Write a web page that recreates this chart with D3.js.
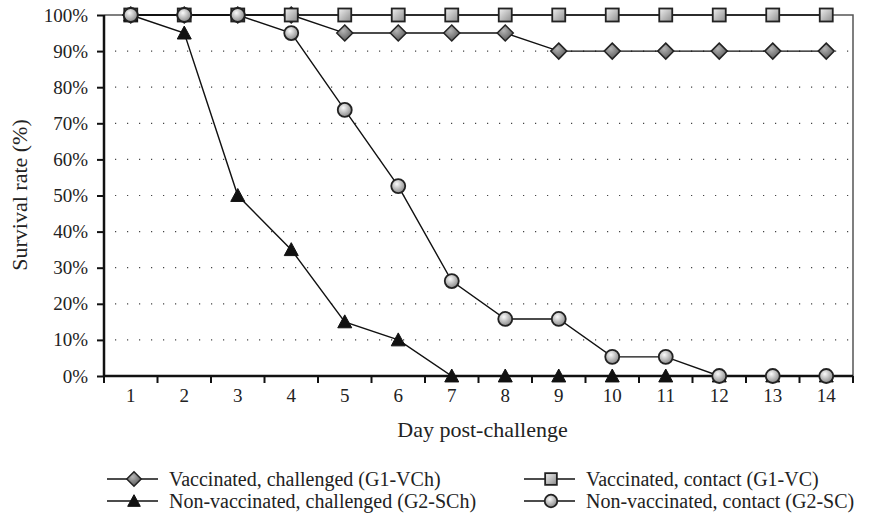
<!DOCTYPE html>
<html>
<head>
<meta charset="utf-8">
<script src="https://cdn.jsdelivr.net/npm/d3@7"></script>
<style>
  body { margin: 0; background: #fff; }
  text { font-family: "Liberation Serif", "Times New Roman", serif; fill: #222; }
</style>
</head>
<body>
<svg id="chart"></svg>
<script>
// data
const days = [1, 2, 3, 4, 5, 6, 7, 8, 9, 10, 11, 12, 13, 14];
const g1VCh = [100, 100, 100, 100, 95, 95, 95, 95, 90, 90, 90, 90, 90, 90];
const g1VC = [100, 100, 100, 100, 100, 100, 100, 100, 100, 100, 100, 100, 100, 100];
const g2SCh = [100, 95, 50, 35, 15, 10, 0, 0, 0, 0, 0, 0, 0, 0];
const g2SC = [100, 100, 100, 95, 73.7, 52.6, 26.3, 15.8, 15.8, 5.3, 5.3, 0, 0, 0];
const yTicks = [0, 10, 20, 30, 40, 50, 60, 70, 80, 90, 100];

const series = [
    { name: "Vaccinated, challenged (G1-VCh)", values: g1VCh, marker: "diamond" },
    { name: "Vaccinated, contact (G1-VC)", values: g1VC, marker: "square" },
    { name: "Non-vaccinated, challenged (G2-SCh)", values: g2SCh, marker: "triangle" },
    { name: "Non-vaccinated, contact (G2-SC)", values: g2SC, marker: "circle" }
];

const W = 875, H = 517;
const margin = { top: 15, right: 22, bottom: 141, left: 104 };
const width = W - margin.left - margin.right;
const height = H - margin.top - margin.bottom;

const root = d3.select("#chart").attr("width", W).attr("height", H);

// gradients for the markers
const defs = root.append("defs");
const rg = defs.append("radialGradient").attr("id", "gCircle")
    .attr("cx", "40%").attr("cy", "35%").attr("r", "65%");
rg.append("stop").attr("offset", "0%").attr("stop-color", "#fafafa");
rg.append("stop").attr("offset", "100%").attr("stop-color", "#8a8a8a");
const lg = defs.append("linearGradient").attr("id", "gSquare")
    .attr("x1", "0%").attr("y1", "0%").attr("x2", "100%").attr("y2", "100%");
lg.append("stop").attr("offset", "0%").attr("stop-color", "#f2f2f2");
lg.append("stop").attr("offset", "100%").attr("stop-color", "#8c8c8c");
const dg = defs.append("radialGradient").attr("id", "gDiamond")
    .attr("cx", "40%").attr("cy", "35%").attr("r", "70%");
dg.append("stop").attr("offset", "0%").attr("stop-color", "#b5b5b5");
dg.append("stop").attr("offset", "100%").attr("stop-color", "#555");

const svg = root.append("g").attr("transform", `translate(${margin.left},${margin.top})`);

const x = d3.scaleBand().domain(days).range([0, width]);
const y = d3.scaleLinear().domain([0, 100]).range([height, 0]);
const cx = d => x(d) + x.bandwidth() / 2;

// dotted grid
svg.append("g").selectAll("line")
    .data(yTicks.filter(t => t > 0 && t < 100))
    .enter().append("line")
    .attr("x1", 0).attr("x2", width)
    .attr("y1", d => y(d)).attr("y2", d => y(d))
    .attr("stroke", "#444").attr("stroke-width", 1.2)
    .attr("stroke-dasharray", "1.2,10.8")
    .attr("stroke-dashoffset", -11);

// frame (top and right)
svg.append("path")
    .attr("d", `M0,0H${width}V${height}`)
    .attr("fill", "none").attr("stroke", "#555").attr("stroke-width", 1.5);

// axes
const yAxis = svg.append("g")
    .call(d3.axisLeft(y).tickValues(yTicks).tickFormat(d => d + "%").tickSize(7).tickPadding(9));
const xAxis = svg.append("g")
    .attr("transform", `translate(0,${height})`)
    .call(d3.axisBottom(x).tickSize(0).tickPadding(13));
// x tick marks sit between the days
xAxis.selectAll(".sep")
    .data(d3.range(days.length + 1))
    .enter().append("line")
    .attr("x1", i => i * x.bandwidth()).attr("x2", i => i * x.bandwidth())
    .attr("y1", 0).attr("y2", 7)
    .attr("stroke", "#111").attr("stroke-width", 2);
[yAxis, xAxis].forEach(a => {
    a.select(".domain").attr("stroke", "#111").attr("stroke-width", 2.5);
    a.selectAll(".tick line").attr("stroke", "#111").attr("stroke-width", 2);
    a.selectAll("text").attr("font-size", 19).attr("font-family", "Liberation Serif").attr("fill", "#222");
});
yAxis.select(".domain").attr("d", `M0,0V${height}`);
xAxis.select(".domain").attr("d", `M0,0H${width}`);

// axis titles
svg.append("text")
    .attr("x", width / 2 + 4).attr("y", height + 61)
    .attr("text-anchor", "middle").attr("font-size", 22)
    .text("Day post-challenge");
svg.append("text")
    .attr("transform", `translate(${19 - margin.left},${195 - margin.top}) rotate(-90)`)
    .attr("text-anchor", "middle").attr("dy", "0.35em").attr("font-size", 22)
    .text("Survival rate (%)");

// marker drawing
function drawMarker(g, type, s) {
    if (type === "circle") {
        g.append("circle").attr("r", 7 * s)
            .attr("fill", "url(#gCircle)").attr("stroke", "#222").attr("stroke-width", 1.8);
    } else if (type === "square") {
        g.append("rect").attr("x", -6.5 * s).attr("y", -6.5 * s)
            .attr("width", 13 * s).attr("height", 13 * s)
            .attr("fill", "url(#gSquare)").attr("stroke", "#222").attr("stroke-width", 1.8);
    } else if (type === "diamond") {
        const r = 8 * s;
        g.append("path").attr("d", `M0,${-r}L${r},0L0,${r}L${-r},0Z`)
            .attr("fill", "url(#gDiamond)").attr("stroke", "#222").attr("stroke-width", 1.5);
    } else {
        const r = 7 * s;
        g.append("path").attr("d", `M0,${-r}L${r},${r * 0.85}L${-r},${r * 0.85}Z`)
            .attr("fill", "#111").attr("stroke", "#111").attr("stroke-width", 1);
    }
}

const line = d3.line().x(d => cx(d.day)).y(d => y(d.v));

series.forEach(s => {
    const pts = days.map((d, i) => ({ day: d, v: s.values[i] }));
    svg.append("path")
        .datum(pts)
        .attr("d", line)
        .attr("fill", "none").attr("stroke", "#111").attr("stroke-width", 1.4);
});
series.forEach(s => {
    const pts = days.map((d, i) => ({ day: d, v: s.values[i] }));
    svg.append("g").selectAll("g")
        .data(pts)
        .enter().append("g")
        .attr("transform", d => `translate(${cx(d.day)},${y(d.v)})`)
        .each(function () { drawMarker(d3.select(this), s.marker, 1); });
});

// legend
const legendPos = [[107, 479], [524, 479], [107, 501], [524, 501]];
series.forEach((s, i) => {
    const lgItem = root.append("g").attr("transform", `translate(${legendPos[i][0]},${legendPos[i][1]})`);
    lgItem.append("line").attr("x1", 0).attr("x2", 51).attr("y1", 0).attr("y2", 0)
        .attr("stroke", "#111").attr("stroke-width", 1.4);
    const m = lgItem.append("g").attr("transform", "translate(27,0)");
    drawMarker(m, s.marker, 0.9);
    lgItem.append("text").attr("x", 62).attr("dy", "0.35em")
        .attr("font-size", 20).text(s.name);
});
</script>
</body>
</html>
